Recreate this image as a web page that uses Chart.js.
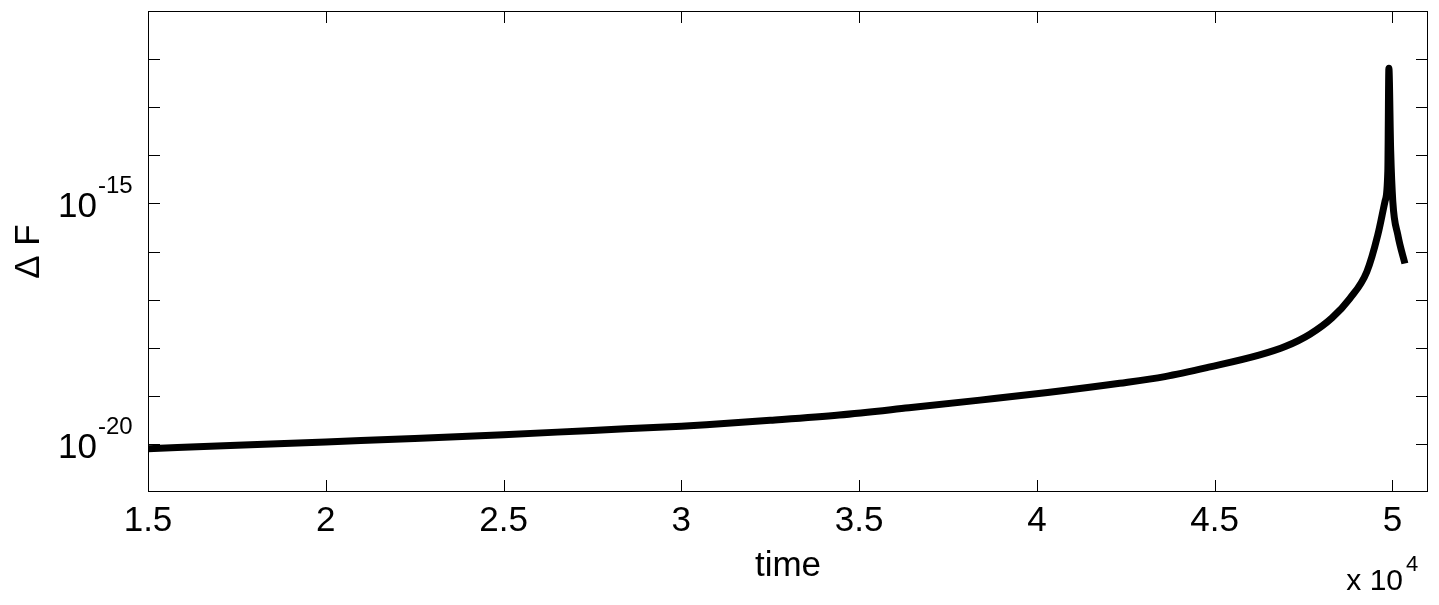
<!DOCTYPE html>
<html>
<head>
<meta charset="utf-8">
<title>Delta F over time</title>
<script src="https://cdn.jsdelivr.net/npm/chart.js@4/dist/chart.umd.min.js"></script>
<style>
    body { margin: 0; background: #ffffff; }
    #wrap { width: 1439px; height: 605px; position: relative; }
</style>
</head>
<body>
<div id="wrap"><canvas id="dfChart"></canvas></div>
<script>
// time samples (raw units, axis shown as x 10^4)
const times = [15000, 17500, 20000, 22500, 25000, 27500, 30000, 30700, 32500, 34440,
    36400, 38400, 40300, 42330, 43600, 44870, 46270, 47000, 47680, 48300,
    48800, 49280, 49590, 49790, 49870, 49900, 49950, 50010, 50150, 50350];

// Delta F
const deltaF = [7.94e-21, 9.33e-21, 1.10e-20, 1.29e-20, 1.55e-20, 1.91e-20, 2.34e-20, 2.51e-20, 3.09e-20, 3.98e-20,
    5.62e-20, 8.13e-20, 1.17e-19, 1.82e-19, 2.51e-19, 3.98e-19, 7.08e-19, 1.07e-18, 1.91e-18, 4.17e-18,
    1.05e-17, 3.80e-17, 2.24e-16, 1.10e-15, 4.68e-15, 6.46e-13, 1.26e-14, 1.10e-15, 2.24e-16, 5.62e-17];

const xTicks = [15000, 20000, 25000, 30000, 35000, 40000, 45000, 50000];
const yDecades = [1e-20, 1e-19, 1e-18, 1e-17, 1e-16, 1e-15, 1e-14, 1e-13, 1e-12];
const yLabelled = [{ v: 1e-15, exp: '-15' }, { v: 1e-20, exp: '-20' }];

const FONT = '"Liberation Sans", Arial, Helvetica, sans-serif';

// frame, inward ticks, log labels and the x 10^4 note
const matlabAxes = {
    id: 'matlabAxes',
    afterDraw(chart) {
        const ctx = chart.ctx;
        const a = chart.chartArea;
        const xs = chart.scales.x;
        const ys = chart.scales.y;
        const tl = 12;
        ctx.save();
        ctx.strokeStyle = '#000000';
        ctx.lineWidth = 1;
        ctx.strokeRect(a.left + 0.5, a.top + 0.5, a.right - a.left - 1, a.bottom - a.top - 1);

        ctx.beginPath();
        xTicks.forEach(t => {
            const px = Math.round(xs.getPixelForValue(t)) + 0.5;
            ctx.moveTo(px, a.bottom);
            ctx.lineTo(px, a.bottom - tl);
            ctx.moveTo(px, a.top);
            ctx.lineTo(px, a.top + tl);
        });
        yDecades.forEach(v => {
            const py = Math.round(ys.getPixelForValue(v)) + 0.5;
            ctx.moveTo(a.left, py);
            ctx.lineTo(a.left + tl, py);
            ctx.moveTo(a.right, py);
            ctx.lineTo(a.right - tl, py);
        });
        ctx.stroke();

        ctx.fillStyle = '#000000';
        ctx.textBaseline = 'alphabetic';
        yLabelled.forEach(l => {
            const py = ys.getPixelForValue(l.v);
            ctx.font = '35px ' + FONT;
            ctx.textAlign = 'right';
            ctx.fillText('10', 97, py + 14);
            ctx.font = '24px ' + FONT;
            ctx.textAlign = 'left';
            ctx.fillText(l.exp, 98, py - 10);
        });

        ctx.save();
        ctx.translate(39, (a.top + a.bottom) / 2);
        ctx.rotate(-Math.PI / 2);
        ctx.font = '35px ' + FONT;
        ctx.textAlign = 'center';
        ctx.fillText('\u0394 F', 0, 0);
        ctx.restore();

        ctx.font = '30px ' + FONT;
        ctx.textAlign = 'right';
        ctx.fillText('x 10', 1403, 590);
        ctx.font = '22px ' + FONT;
        ctx.textAlign = 'left';
        ctx.fillText('4', 1406, 571);
        ctx.restore();
    }
};

new Chart(document.getElementById('dfChart').getContext('2d'), {
    type: 'line',
    data: {
        datasets: [{
            label: 'Delta F',
            data: times.map((t, i) => ({ x: t, y: deltaF[i] })),
            borderColor: '#000000',
            borderWidth: 7,
            borderJoinStyle: 'round',
            borderCapStyle: 'butt',
            pointRadius: 0,
            cubicInterpolationMode: 'monotone',
            fill: false
        }]
    },
    options: {
        responsive: true,
        maintainAspectRatio: false,
        animation: false,
        layout: { autoPadding: false, padding: { left: 148, right: 11, top: 11, bottom: 0 } },
        plugins: {
            legend: { display: false },
            tooltip: { enabled: false }
        },
        scales: {
            x: {
                type: 'linear',
                min: 15000,
                max: 51000,
                afterBuildTicks: scale => {
                    scale.ticks = xTicks.map(v => ({ value: v }));
                },
                grid: { display: false, drawTicks: false },
                border: { display: false },
                ticks: {
                    color: '#000000',
                    padding: 8,
                    font: { family: FONT, size: 35 },
                    maxRotation: 0,
                    autoSkip: false,
                    callback: v => String(v / 10000)
                },
                title: {
                    display: true,
                    text: 'time',
                    color: '#000000',
                    font: { family: FONT, size: 35 },
                    padding: { top: -5, bottom: 18 }
                }
            },
            y: {
                type: 'logarithmic',
                min: 1e-21,
                max: 1e-11,
                display: false
            }
        }
    },
    plugins: [matlabAxes]
});
</script>
</body>
</html>
